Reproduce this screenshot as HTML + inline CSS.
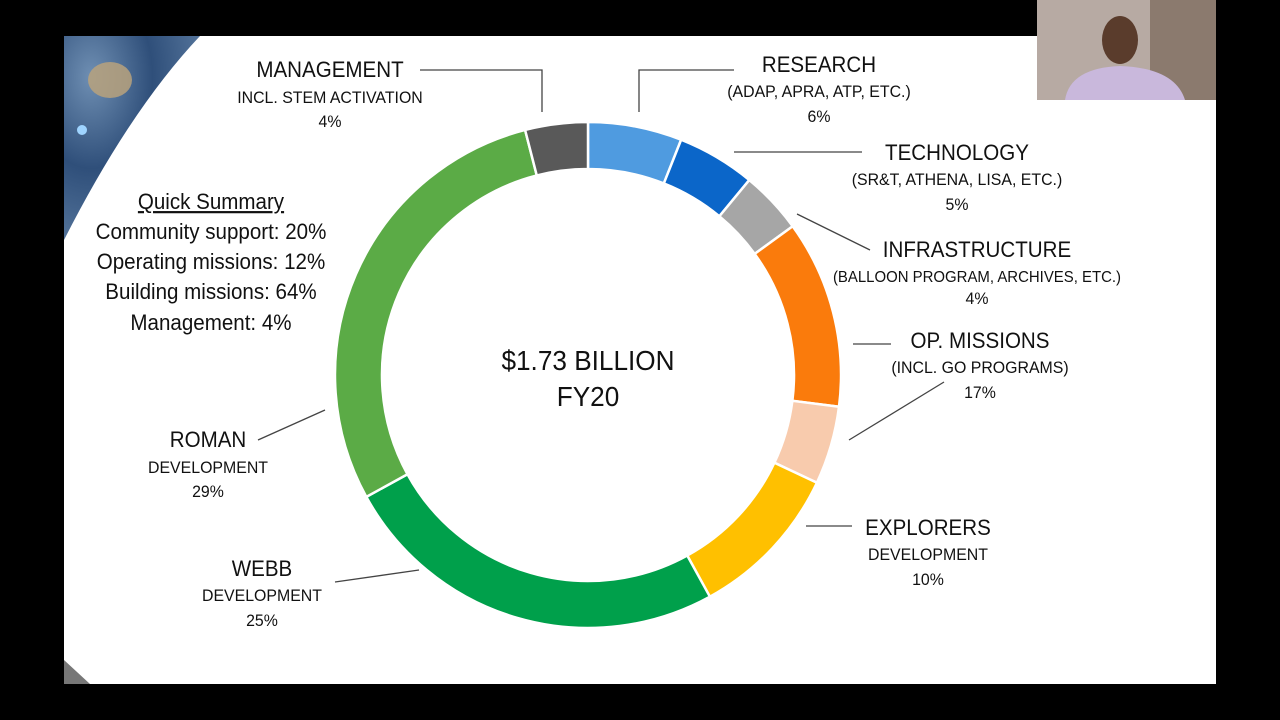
<!DOCTYPE html>
<html><head><meta charset="utf-8"><style>
html,body{margin:0;padding:0;background:#000;width:1280px;height:720px;overflow:hidden}
svg{position:absolute;left:0;top:0}
text{font-family:"Liberation Sans Narrow","Liberation Sans",sans-serif;fill:#111}
</style></head><body>
<svg width="1280" height="720" viewBox="0 0 1280 720">
<defs>
<radialGradient id="sp" cx="0.2" cy="0.2" r="0.9">
<stop offset="0" stop-color="#6f8fb3"/><stop offset="0.5" stop-color="#2f4f7a"/><stop offset="1" stop-color="#5a7aa0"/></radialGradient>
</defs>
<rect x="0" y="0" width="1280" height="720" fill="#000"/>
<rect x="64" y="36" width="1152" height="648" fill="#fff"/>
<path d="M64,36 L200,36 Q130,110 64,240 Z" fill="url(#sp)"/>
<ellipse cx="110" cy="80" rx="22" ry="18" fill="#b9a27c" opacity="0.85"/>
<circle cx="82" cy="130" r="5" fill="#9fd4ff"/>
<path d="M64,660 L90,684 L64,684 Z" fill="#777"/>
<rect x="1037" y="0" width="179" height="100" fill="#b7aaa3"/>
<rect x="1150" y="0" width="66" height="100" fill="#8b7a6e"/>
<ellipse cx="1120" cy="40" rx="18" ry="24" fill="#5a3c2c"/>
<path d="M1065,100 Q1070,68 1120,66 Q1175,68 1185,100 Z" fill="#c9b8dc"/>
<g id="donut"></g>
<g stroke="#444" stroke-width="1.3" fill="none">
<polyline points="420,70 542,70 542,112"/>
<polyline points="734,70 639,70 639,112"/>
<line x1="734" y1="152" x2="862" y2="152"/>
<line x1="797" y1="214" x2="870" y2="250"/>
<line x1="853" y1="344" x2="891" y2="344"/>
<line x1="849" y1="440" x2="944" y2="382"/>
<line x1="806" y1="526" x2="852" y2="526"/>
<line x1="335" y1="582" x2="419" y2="570"/>
<line x1="258" y1="440" x2="325" y2="410"/>
</g>
<g text-anchor="middle" id="txt">
<text x="330" y="77" font-size="22">MANAGEMENT</text>
<text x="330" y="103" font-size="17">INCL. STEM ACTIVATION</text>
<text x="330" y="127" font-size="17">4%</text>
<text x="819" y="72" font-size="22">RESEARCH</text>
<text x="819" y="97" font-size="17">(ADAP, APRA, ATP, ETC.)</text>
<text x="819" y="122" font-size="17">6%</text>
<text x="957" y="160" font-size="22">TECHNOLOGY</text>
<text x="957" y="185" font-size="17">(SR&amp;T, ATHENA, LISA, ETC.)</text>
<text x="957" y="210" font-size="17">5%</text>
<text x="977" y="257" font-size="22">INFRASTRUCTURE</text>
<text x="977" y="282" font-size="16">(BALLOON PROGRAM, ARCHIVES, ETC.)</text>
<text x="977" y="304" font-size="17">4%</text>
<text x="980" y="348" font-size="22">OP. MISSIONS</text>
<text x="980" y="373" font-size="17">(INCL. GO PROGRAMS)</text>
<text x="980" y="398" font-size="17">17%</text>
<text x="928" y="535" font-size="22">EXPLORERS</text>
<text x="928" y="560" font-size="17">DEVELOPMENT</text>
<text x="928" y="585" font-size="17">10%</text>
<text x="262" y="576" font-size="22">WEBB</text>
<text x="262" y="601" font-size="17">DEVELOPMENT</text>
<text x="262" y="626" font-size="17">25%</text>
<text x="208" y="447" font-size="22">ROMAN</text>
<text x="208" y="473" font-size="17">DEVELOPMENT</text>
<text x="208" y="497" font-size="17">29%</text>
<text x="211" y="209" font-size="22" text-decoration="underline">Quick Summary</text>
<text x="211" y="239" font-size="22">Community support: 20%</text>
<text x="211" y="269" font-size="22">Operating missions: 12%</text>
<text x="211" y="299" font-size="22">Building missions: 64%</text>
<text x="211" y="330" font-size="22">Management: 4%</text>
<text x="588" y="370" font-size="28">$1.73 BILLION</text>
<text x="588" y="406" font-size="28">FY20</text>
</g>
</svg>
<script>
var segs=[[6,"#4f9be0"],[5,"#0b66c9"],[4,"#a6a6a6"],[12,"#fa7b0c"],[5,"#f8cbad"],[10,"#ffc000"],[25,"#00a04b"],[29,"#5bab46"],[4,"#595959"]];
var cx=588,cy=375,R=253,r=206,a=0,h="";
function pt(rad,ang){var t=(ang/100)*2*Math.PI-Math.PI/2;return [cx+rad*Math.cos(t),cy+rad*Math.sin(t)];}
segs.forEach(function(s){var b=a+s[0];var p1=pt(R,a),p2=pt(R,b),p3=pt(r,b),p4=pt(r,a);var lg=s[0]>50?1:0;
h+='<path d="M'+p1+' A'+R+','+R+' 0 '+lg+' 1 '+p2+' L'+p3+' A'+r+','+r+' 0 '+lg+' 0 '+p4+' Z" fill="'+s[1]+'" stroke="#fff" stroke-width="2.5"/>';a=b;});
document.getElementById("donut").innerHTML=h;
var s=0.935;
document.querySelectorAll("#txt text").forEach(function(t){var x=+t.getAttribute("x");t.setAttribute("transform","translate("+(x*(1-s))+",0) scale("+s+",1)");});
</script>
</body></html>
